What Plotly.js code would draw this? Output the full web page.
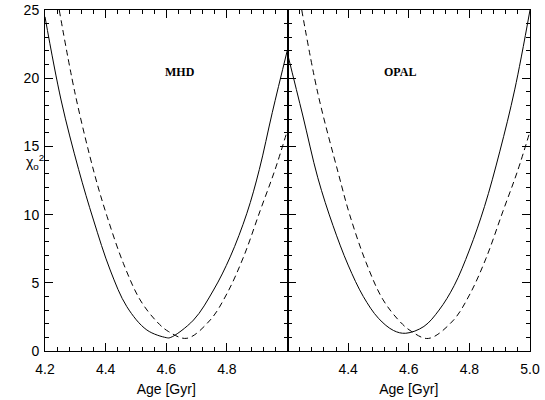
<!DOCTYPE html>
<html>
<head>
<meta charset="utf-8">
<script src="https://cdn.plot.ly/plotly-3.0.1.min.js"></script>
<style>html,body{margin:0;padding:0;background:#fff;}#chart{width:545px;height:400px;}</style>
</head>
<body>
<div id="chart"></div>
<script>
// MHD panel (left)
const mhdSolidAge = [4.20, 4.253, 4.311, 4.36, 4.415, 4.47, 4.536, 4.60, 4.613, 4.69, 4.756, 4.811, 4.866, 4.907, 4.95, 5.00];
const mhdSolidChi = [24.5, 18.4, 13.3, 9.6, 5.94, 3.25, 1.54, 0.98, 0.98, 2.27, 4.47, 6.9, 10.1, 13.3, 17.5, 22.1];
const mhdDashAge = [4.247, 4.30, 4.363, 4.405, 4.459, 4.514, 4.569, 4.608, 4.668, 4.745, 4.80, 4.855, 4.91, 4.959, 5.00];
const mhdDashChi = [25.0, 18.8, 13.0, 9.85, 6.4, 3.74, 2.15, 1.42, 0.93, 2.27, 4.2, 6.9, 10.3, 13.3, 16.2];
// OPAL panel (right)
const opalSolidAge = [4.20, 4.25, 4.30, 4.35, 4.40, 4.45, 4.50, 4.55, 4.59, 4.65, 4.70, 4.75, 4.80, 4.85, 4.90, 4.95, 5.00];
const opalSolidChi = [21.8, 17.3, 12.7, 9.2, 6.3, 4.0, 2.4, 1.5, 1.3, 1.8, 3.0, 4.8, 7.4, 10.6, 14.6, 19.2, 25.0];
const opalDashAge = [4.247, 4.30, 4.368, 4.405, 4.459, 4.514, 4.569, 4.608, 4.665, 4.745, 4.80, 4.855, 4.91, 4.959, 5.00];
const opalDashChi = [25.0, 18.9, 13.0, 10.0, 6.5, 3.8, 2.2, 1.45, 0.92, 2.2, 4.1, 6.8, 10.2, 13.2, 16.1];

const leftTicks = [4.2, 4.4, 4.6, 4.8];
const rightTicks = [4.4, 4.6, 4.8, 5.0];
const panelNames = ['MHD', 'OPAL'];

const lineS = {color: '#000', width: 1, shape: 'spline', smoothing: 1};
const lineD = {color: '#000', width: 1, dash: '6px,4px', shape: 'spline', smoothing: 1};

const data = [
  {x: mhdSolidAge, y: mhdSolidChi, xaxis: 'x', yaxis: 'y', mode: 'lines', line: lineS, hoverinfo: 'skip'},
  {x: mhdDashAge, y: mhdDashChi, xaxis: 'x', yaxis: 'y', mode: 'lines', line: lineD, hoverinfo: 'skip'},
  {x: opalSolidAge, y: opalSolidChi, xaxis: 'x2', yaxis: 'y2', mode: 'lines', line: lineS, hoverinfo: 'skip'},
  {x: opalDashAge, y: opalDashChi, xaxis: 'x2', yaxis: 'y2', mode: 'lines', line: lineD, hoverinfo: 'skip'}
];

const tickFont = {family: 'Liberation Sans, Arial, sans-serif', size: 14, color: '#000'};
function xax(domain, vals, anchor) {
  return {
    domain: domain, range: [4.2, 5.0], anchor: anchor,
    tickmode: 'array', tickvals: vals, ticktext: vals.map(v => v.toFixed(1)),
    ticks: 'inside', ticklen: 8, tickwidth: 1, tickcolor: '#000',
    minor: {dtick: 0.04, tick0: 4.2, ticks: 'inside', ticklen: 4, tickwidth: 1, tickcolor: '#000'},
    showline: true, linecolor: '#000', linewidth: 1, mirror: 'ticks',
    showgrid: false, zeroline: false, tickfont: tickFont, ticklabelstandoff: 5,
    title: {text: 'Age [Gyr]', font: tickFont, standoff: 8}
  };
}
function yax(anchor, labels) {
  return {
    domain: [0, 1], range: [0, 25], anchor: anchor,
    tickmode: 'linear', tick0: 0, dtick: 5,
    ticks: 'inside', ticklen: 8, tickwidth: 1, tickcolor: '#000',
    minor: {dtick: 1, ticks: 'inside', ticklen: 4, tickwidth: 1, tickcolor: '#000'},
    showline: true, linecolor: '#000', linewidth: 1, mirror: 'ticks',
    showgrid: false, zeroline: false, showticklabels: labels, tickfont: tickFont, ticklabelstandoff: 2
  };
}

const layout = {
  width: 545, height: 400,
  margin: {l: 44.6, r: 14.8, t: 10, b: 49},
  paper_bgcolor: '#fff', plot_bgcolor: '#fff',
  showlegend: false,
  xaxis: xax([0, 0.5], leftTicks, 'y'),
  yaxis: yax('x', true),
  xaxis2: xax([0.5, 1], rightTicks, 'y2'),
  yaxis2: yax('x2', false),
  annotations: [
    {xref: 'x', yref: 'y', x: 4.646, y: 20.45, text: '<b>' + panelNames[0] + '</b>', showarrow: false,
     font: {family: 'Liberation Serif, Times New Roman, serif', size: 12, color: '#000'}},
    {xref: 'x2', yref: 'y2', x: 4.571, y: 20.45, text: '<b>' + panelNames[1] + '</b>', showarrow: false,
     font: {family: 'Liberation Serif, Times New Roman, serif', size: 12, color: '#000'}},
    {xref: 'paper', yref: 'paper', x: -0.043, y: 0.555, text: 'χ<sub>o</sub><sup>2</sup>', showarrow: false,
     font: {family: 'Liberation Sans, Arial, sans-serif', size: 14, color: '#000'}}
  ]
};

Plotly.newPlot('chart', data, layout, {staticPlot: true, displayModeBar: false});
</script>
</body>
</html>
